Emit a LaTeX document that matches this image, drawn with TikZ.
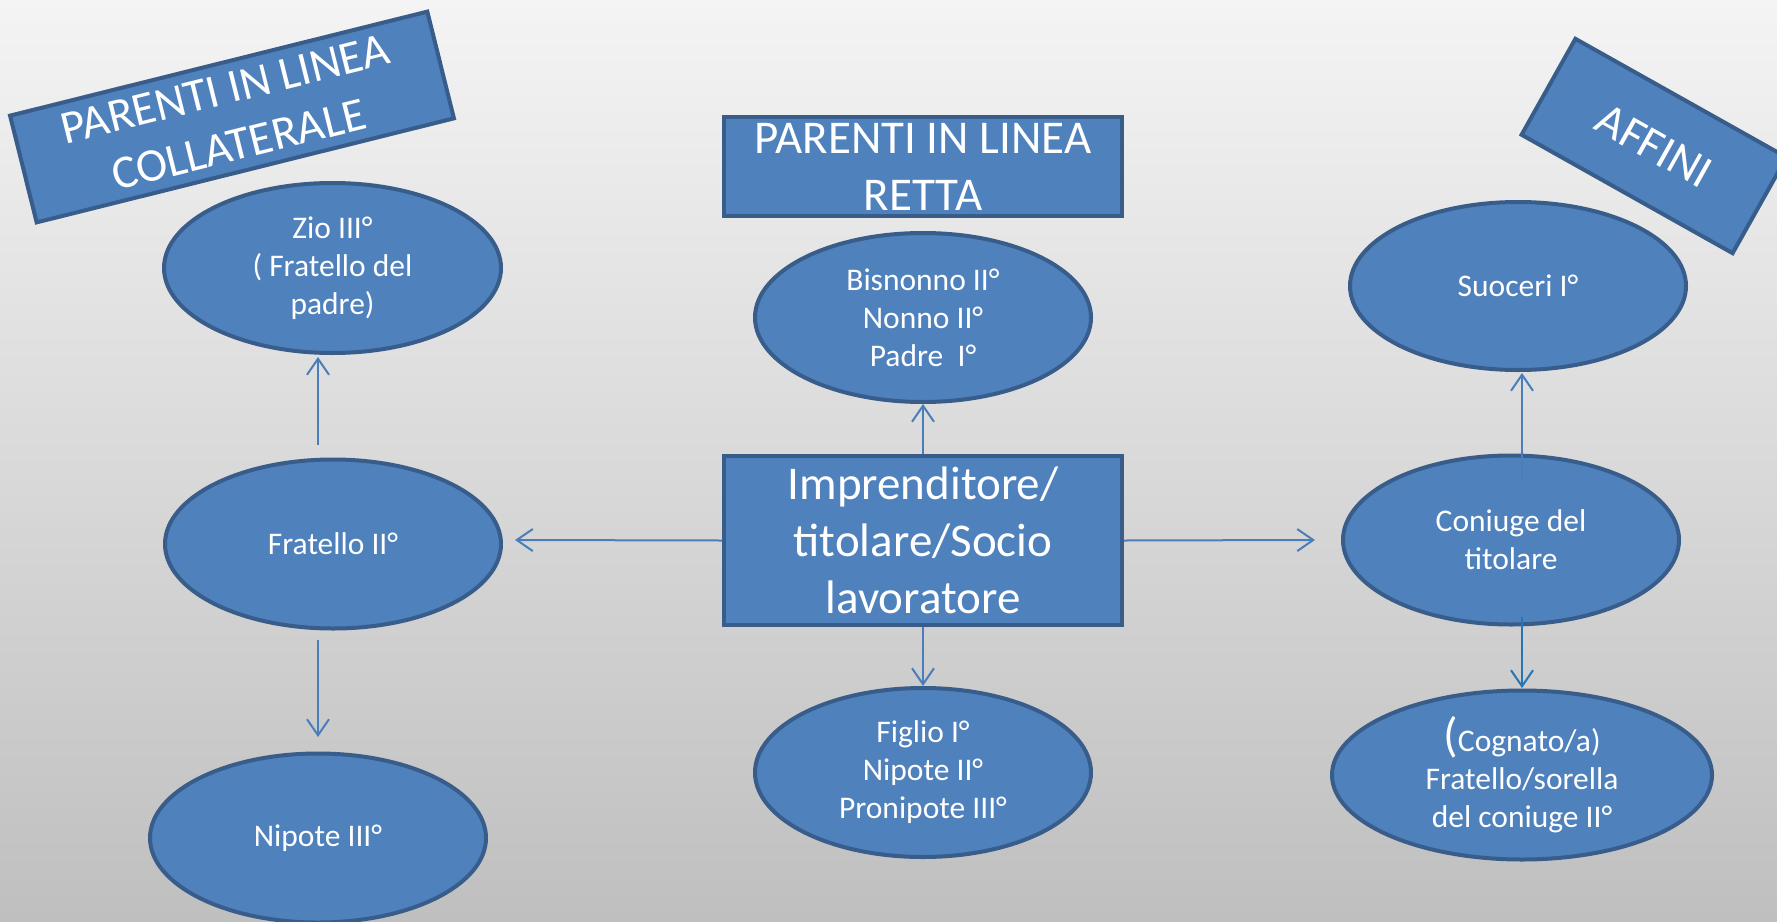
\documentclass[tikz,border=0pt]{standalone}
\usepackage{fontspec}
\setmainfont{Carlito}
\usetikzlibrary{shapes.geometric,arrows.meta}
\definecolor{bgtop}{RGB}{244,244,244}
\definecolor{bgbot}{RGB}{191,191,191}
\definecolor{boxfill}{RGB}{79,129,189}
\definecolor{boxline}{RGB}{56,93,138}
\definecolor{linkc}{RGB}{74,126,187}
\definecolor{linkd}{RGB}{38,118,180}
\begin{document}
\begin{tikzpicture}[x=1pt,y=-1pt,
  panel/.style={draw=boxline, fill=boxfill, line width=4pt, rectangle, inner sep=0pt},
  oval/.style={draw=boxline, fill=boxfill, line width=4pt, ellipse, inner sep=0pt,
    minimum width=336pt, minimum height=169pt, text=white, align=center,
    font=\fontsize{31.5}{38}\selectfont},
  bigtext/.style={text=white, align=center, font=\fontsize{47}{57}\selectfont, inner sep=0pt},
  link/.style={draw=linkc, line width=2pt,
    -{Straight Barb[length=16pt,width=22pt,line width=2pt]}}
]
% background
\fill[top color=bgtop, bottom color=bgbot] (0,0) rectangle (1777,921);
\useasboundingbox (0,0) rectangle (1777,921);

% heading panels
\node[panel, minimum width=430pt, minimum height=110pt, rotate=14] (colbox) at (232,117) {};
\node[bigtext, rotate=14] (coltext) at (colbox.center) {PARENTI IN LINEA\\COLLATERALE};

\node[panel, minimum width=398pt, minimum height=99pt] (rettabox) at (923,166.5) {};
\node[bigtext] (rettatext) at (rettabox.center) {PARENTI IN LINEA\\RETTA};

\node[panel, minimum width=242pt, minimum height=110pt, rotate=-29.3] (affbox) at (1654,146) {};
\node[bigtext, rotate=-29.3] (afftext) at (affbox.center) {AFFINI};

% central box
\node[panel, minimum width=398pt, minimum height=169pt] (main) at (923,540.5) {};
\node[bigtext] (maintext) at (main.center) {Imprenditore/\\titolare/Socio\\lavoratore};

% relatives
\node[oval, minimum width=337pt, minimum height=170pt] (zio) at (332.5,268) {Zio III°\\( Fratello del\\padre)};
\node[oval] (frat) at (333,544) {Fratello II°};
\node[oval] (nip) at (318,838) {Nipote III°};
\node[oval] (bisn) at (923,317.5) {Bisnonno II°\\Nonno II°\\Padre\ \ I°};
\node[oval] (figl) at (923,772.5) {Figlio I°\\Nipote II°\\Pronipote III°};
\node[oval, minimum height=168pt] (suoc) at (1518,286) {Suoceri I°};
\node[oval] (coni) at (1511,540) {Coniuge del\\titolare};
\node[oval, minimum width=380pt] (cogn) at (1522,775)
  {{\fontsize{48}{38}\selectfont(}Cognato/a)\\Fratello/sorella\\del coniuge II°};

% free ends of the connectors
\coordinate (lefttip) at (515,540);
\coordinate (righttip) at (1315,540);
\coordinate (fratup) at (318,445);
\coordinate (ziobot) at (318,357);
\coordinate (fratdown) at (318,640);
\coordinate (niptop) at (318,737);
\coordinate (coniup) at (1522,480);
\coordinate (suocbot) at (1522,373);
\coordinate (conidown) at (1522,617);
\coordinate (cogntop) at (1522,688);

% connectors
\draw[link] (main.west) -- (lefttip);
\draw[link] (main.east) -- (righttip);
\draw[link] (main.north) -- (bisn.south);
\draw[link] (main.south) -- (figl.north);
\draw[link] (fratup) -- (ziobot);
\draw[link] (fratdown) -- (niptop);
\draw[link] (coniup) -- (suocbot);
\draw[link, draw=linkd] (conidown) -- (cogntop);
\end{tikzpicture}
\end{document}
